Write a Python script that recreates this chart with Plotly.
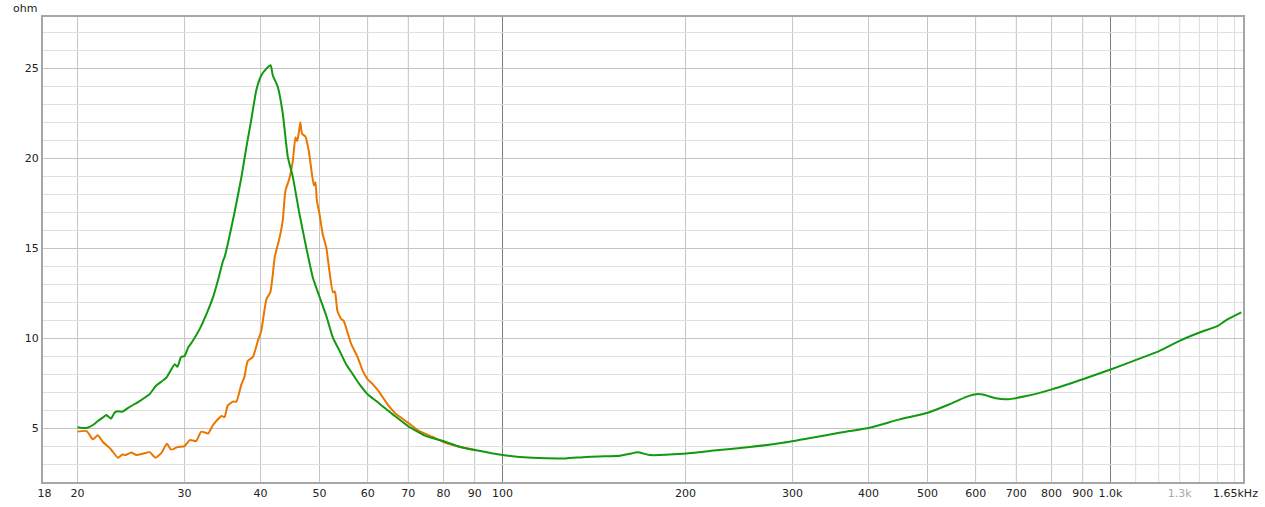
import plotly.graph_objects as go

# impedance curves (Hz, ohm)
green_freq = [20.0, 20.7, 21.2, 21.6, 22.0, 22.3, 22.7, 23.0, 23.3, 23.7, 24.35, 25.3, 26.3, 26.9,
              28.0, 28.9, 29.2, 29.6, 30.0, 30.4, 30.95, 31.75, 32.6, 33.4, 34.2, 34.7, 34.9, 36.2,
              37.2, 37.9, 38.6, 39.35, 40.1, 40.9, 41.55, 41.9, 42.7, 43.5, 44.35, 45.2, 46.35,
              47.55, 48.75, 50.0, 51.3, 52.6, 53.95, 55.3, 56.7, 58.2, 60.0, 62.0, 64.4, 66.0,
              69.9, 74.9, 79.8, 85.0, 90.5, 100, 112, 127, 135.5, 144, 156, 162, 167, 174.5, 198,
              225, 255, 289, 328, 358, 372, 401.5, 450, 500.6, 543.5, 579, 601, 616.6, 648.6,
              673.7, 726.6, 801, 900.5, 1003, 1102, 1204, 1299, 1401, 1502, 1550, 1641]
green_ohm = [5.05, 5.0, 5.17, 5.39, 5.58, 5.72, 5.52, 5.85, 5.93, 5.91, 6.17, 6.5, 6.9, 7.34,
             7.8, 8.55, 8.4, 8.95, 9.0, 9.47, 9.85, 10.5, 11.35, 12.26, 13.47, 14.3, 14.5, 16.9,
             18.95, 20.6, 22.1, 23.77, 24.6, 24.98, 25.17, 24.6, 23.96, 22.5, 20.06, 18.95, 16.9,
             15.04, 13.37, 12.3, 11.24, 10.03, 9.29, 8.55, 8.0, 7.43, 6.88, 6.5, 6.04, 5.76,
             5.11, 4.55, 4.28, 3.96, 3.76, 3.5, 3.35, 3.31, 3.38, 3.42, 3.46, 3.57, 3.65, 3.5, 3.57,
             3.76, 3.94, 4.18, 4.5, 4.74, 4.83, 5.02, 5.48, 5.85, 6.32, 6.73, 6.88, 6.86, 6.65,
             6.6, 6.78, 7.15, 7.71, 8.27, 8.79, 9.29, 9.85, 10.31, 10.68, 11.0, 11.43]

orange_freq = [20.0, 20.7, 21.2, 21.6, 22.0, 22.7, 23.3, 23.7, 24.0, 24.5, 25.0, 25.6, 26.3, 26.6,
               26.9, 27.5, 28.05, 28.5, 29.2, 30.0, 30.6, 31.35, 31.95, 32.8, 33.4, 34.5, 34.9,
               35.3, 36.0, 36.5, 37.2, 37.6, 38.1, 38.85, 39.6, 40.1, 40.9, 41.5, 41.9, 42.2, 43.0,
               43.5, 43.95, 44.6, 45.2, 45.65, 45.95, 46.2, 46.5, 46.8, 47.4, 48.0, 48.5, 48.95,
               49.25, 49.5, 50.0, 50.6, 51.3, 51.9, 52.6, 52.9, 53.1, 53.5, 54.3, 54.8, 55.5, 56.4,
               57.8, 58.9, 60.0, 61.2, 62.8, 64.4, 65.35, 66.9, 69.9, 73.0, 76.8, 79.8, 85.0, 90.5]
orange_ohm = [4.8, 4.83, 4.37, 4.6, 4.24, 3.81, 3.35, 3.53, 3.5, 3.64, 3.5, 3.57, 3.66, 3.48,
              3.35, 3.63, 4.13, 3.8, 3.94, 4.0, 4.33, 4.28, 4.8, 4.7, 5.17, 5.67, 5.61,
              6.23, 6.47, 6.47, 7.43, 7.8, 8.73, 8.95, 9.85, 10.4, 12.17, 12.54, 13.56, 14.5, 15.6,
              16.53, 18.2, 18.86, 19.87, 21.17, 20.95, 21.36, 22.0, 21.36, 21.21, 20.43, 19.32, 18.48,
              18.67, 17.65, 16.9, 15.79, 15.04, 13.75, 12.54, 12.6, 12.48, 11.52, 11.05, 10.96, 10.4, 9.66,
              8.92, 8.18, 7.71, 7.43, 6.97, 6.41, 6.13, 5.76, 5.3, 4.83, 4.5, 4.24, 3.96, 3.76]

# axis labels
x_tick_vals = [17.65, 20, 30, 40, 50, 60, 70, 80, 90, 100, 200, 300, 400, 500, 600, 700, 800, 900,
               1000, 1300, 1605]
x_tick_text = ["18", "20", "30", "40", "50", "60", "70", "80", "90", "100", "200", "300", "400",
               "500", "600", "700", "800", "900", "1.0k", '<span style="color:#a8a8a8">1.3k</span>',
               "1.65kHz"]
y_tick_vals = [5, 10, 15, 20, 25]
y_minor_vals = list(range(3, 28))

# vertical grid lines
grid_mid = [20, 30, 40, 50, 60, 70, 80, 90, 200, 300, 400, 500, 600, 700, 800, 900]
grid_dark = [100, 1000]
grid_light = [1100, 1200, 1300, 1400, 1500, 1600]

x_range = [1.2442, 3.2179]   # log10 of ~17.55 Hz .. ~1651 Hz
y_range = [2.0, 27.85]

fig = go.Figure()

fig.add_trace(go.Scatter(x=orange_freq, y=orange_ohm, mode="lines",
                         line=dict(color="#ea7600", width=2, shape="spline", smoothing=0.5),
                         showlegend=False))
fig.add_trace(go.Scatter(x=green_freq, y=green_ohm, mode="lines",
                         line=dict(color="#119911", width=2, shape="spline", smoothing=0.5),
                         showlegend=False))

for f in grid_light:
    fig.add_shape(type="line", xref="x", yref="paper", x0=f, x1=f, y0=0, y1=1,
                  line=dict(color="#dcdcdc", width=1), layer="below")
for f in grid_mid:
    fig.add_shape(type="line", xref="x", yref="paper", x0=f, x1=f, y0=0, y1=1,
                  line=dict(color="#c4c4c4", width=1), layer="below")
for f in grid_dark:
    fig.add_shape(type="line", xref="x", yref="paper", x0=f, x1=f, y0=0, y1=1,
                  line=dict(color="#7a7a7a", width=1), layer="below")

fig.add_annotation(text="ohm", xref="paper", yref="paper", x=0, y=1, xanchor="right",
                   yanchor="bottom", xshift=-4, yshift=0, showarrow=False,
                   font=dict(size=11, color="#222"))

fig.update_layout(
    width=1265, height=507,
    margin=dict(l=43, r=22, t=17, b=25),
    plot_bgcolor="white", paper_bgcolor="white",
    font=dict(family="DejaVu Sans, Verdana, sans-serif", size=11, color="#222"),
    xaxis=dict(type="log", range=x_range, tickvals=x_tick_vals, ticktext=x_tick_text,
               showgrid=False, zeroline=False, ticks="", ticklen=0, automargin=False,
               showline=True, mirror=True, linecolor="#a6a6a6", linewidth=2),
    yaxis=dict(range=y_range, tickvals=y_tick_vals, showgrid=True, gridcolor="#c4c4c4",
               gridwidth=1, zeroline=False, ticks="", ticklen=0, automargin=False,
               minor=dict(tickvals=y_minor_vals, showgrid=True, gridcolor="#e0e0e0", gridwidth=1),
               showline=True, mirror=True, linecolor="#a6a6a6", linewidth=2),
)

# drop the default 8px page margin so the figure fills the window exactly
fig.write_html("out.html", config={"displayModeBar": False},
               post_script="document.body.style.margin = '0';")
